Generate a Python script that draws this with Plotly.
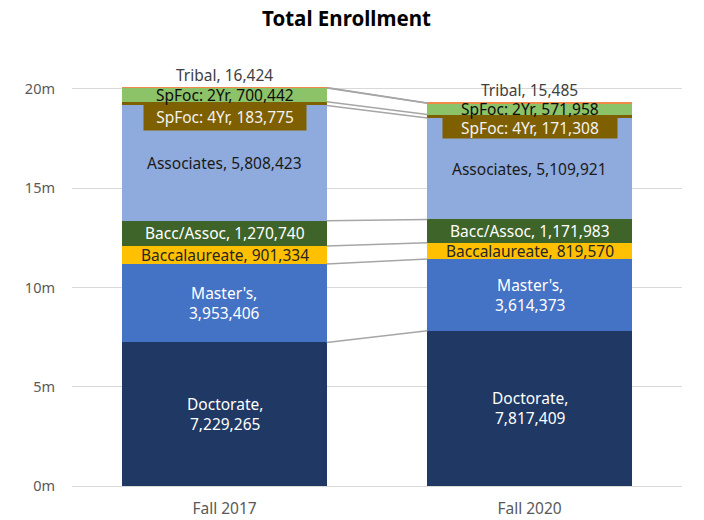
import plotly.graph_objects as go

categories = ["Fall 2017", "Fall 2020"]
series_names = ["Doctorate", "Master's", "Baccalaureate", "Bacc/Assoc",
                "Associates", "SpFoc: 4Yr", "SpFoc: 2Yr", "Tribal"]
doctorate = [7229265, 7817409]
masters = [3953406, 3614373]
baccalaureate = [901334, 819570]
bacc_assoc = [1270740, 1171983]
associates = [5808423, 5109921]
spfoc_4yr = [183775, 171308]
spfoc_2yr = [700442, 571958]
tribal = [16424, 15485]
y_tickvals = [0, 5e6, 10e6, 15e6, 20e6]
y_ticktext = ["0m", "5m", "10m", "15m", "20m"]

series_values = [doctorate, masters, baccalaureate, bacc_assoc,
                 associates, spfoc_4yr, spfoc_2yr, tribal]
colors = ["#203864", "#4472C4", "#FFC000", "#3F6429",
          "#8FAADC", "#7F6000", "#8CC268", "#F08A4B"]
text_colors = ["#FFFFFF", "#FFFFFF", "#262626", "#FFFFFF",
               "#1A1A1A", "#F2F2F2", "#0D0D0D", "#404040"]

FONT = "Noto Sans"
LABEL_SIZE = 15.5
BAR_W = 0.67
xs = list(range(len(categories)))

fig = go.Figure()

# cumulative tops
bases = [[0] * len(categories)]
for vals in series_values:
    prev = bases[-1]
    bases.append([p + v for p, v in zip(prev, vals)])

for i, (name, vals) in enumerate(zip(series_names, series_values)):
    fig.add_trace(go.Bar(
        x=xs, y=vals, name=name, width=BAR_W,
        marker=dict(color=colors[i], line=dict(width=0)),
        hoverinfo="skip", showlegend=False,
    ))

# connector lines between segment tops
for i in range(len(series_names)):
    tops = bases[i + 1]
    fig.add_trace(go.Scatter(
        x=[xs[0] + BAR_W / 2, xs[1] - BAR_W / 2], y=[tops[0], tops[1]],
        mode="lines", line=dict(color="#A6A6A6", width=1.5),
        hoverinfo="skip", showlegend=False,
    ))

annotations = []
for i, (name, vals) in enumerate(zip(series_names, series_values)):
    for j, v in enumerate(vals):
        base = bases[i][j]
        top = bases[i + 1][j]
        if name in ("Doctorate", "Master's"):
            txt = f"{name},<br>{v:,}"
        else:
            txt = f"{name}, {v:,}"
        ann = dict(x=xs[j], text=txt, showarrow=False,
                   font=dict(family=FONT, size=LABEL_SIZE, color=text_colors[i]))
        if name == "Tribal":
            ann.update(y=top, yanchor="bottom", yshift=0)
        elif name == "SpFoc: 4Yr":
            ann.update(y=top, yanchor="top", bgcolor=colors[i],
                       height=27 if j == 0 else 20, borderpad=0,
                       width=162 if j == 0 else 174,
                       yshift=0 if j == 0 else -2)
        else:
            ann.update(y=(base + top) / 2, yanchor="middle")
        annotations.append(ann)

annotations.append(dict(
    text="<b>Total Enrollment</b>", xref="paper", yref="paper",
    x=0.45, y=1, yanchor="middle", yshift=51, height=20, borderpad=0,
    showarrow=False,
    font=dict(family=FONT, size=20.5, color="#000000"),
))

# the page body adds an 8px offset, so margins are shifted to compensate
fig.update_layout(
    width=704, height=520,
    margin=dict(l=64, r=30, t=61, b=42),
    barmode="stack", bargap=0,
    plot_bgcolor="white", paper_bgcolor="white",
    annotations=annotations,
    font=dict(family=FONT, size=14, color="#595959"),
)
fig.update_xaxes(
    tickvals=xs, ticktext=categories, range=[-0.5, 1.5], automargin=False,
    showgrid=False, zeroline=False, showline=False,
    ticklabelstandoff=11, tickfont=dict(size=15.5, color="#595959"),
)
fig.update_yaxes(
    range=[0, 21e6], tickvals=y_tickvals, ticktext=y_ticktext, automargin=False,
    showgrid=True, gridcolor="#D9D9D9", gridwidth=1,
    zeroline=True, zerolinecolor="#D9D9D9", zerolinewidth=1,
    ticklabelstandoff=16, tickfont=dict(size=14.5, color="#595959"),
)

fig.write_html("out.html")
